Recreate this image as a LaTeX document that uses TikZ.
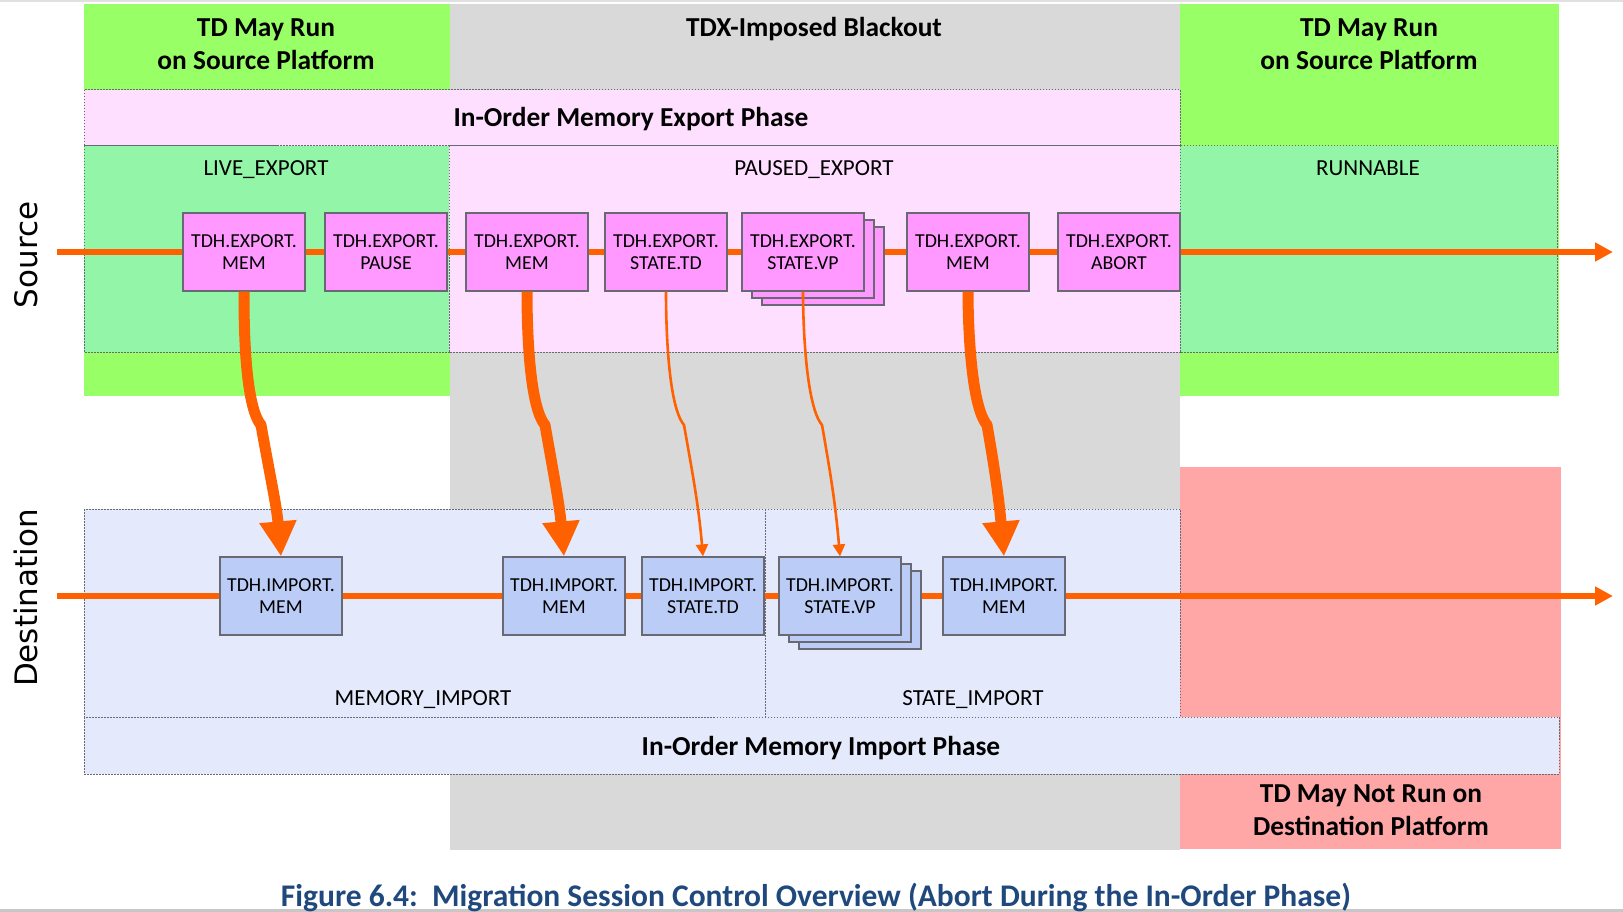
\documentclass[tikz,border=0pt]{standalone}
\usepackage{fontspec}
\setmainfont{Carlito}
\newfontfamily\sidefont{DejaVu Sans}
\usetikzlibrary{arrows.meta,shadows}

\definecolor{runGreen}{RGB}{153,255,102}
\definecolor{stateGreen}{RGB}{146,245,168}
\definecolor{blackoutGray}{RGB}{217,217,217}
\definecolor{exportPink}{RGB}{255,223,255}
\definecolor{exportBox}{RGB}{255,153,255}
\definecolor{importBlue}{RGB}{228,234,251}
\definecolor{importBox}{RGB}{187,204,246}
\definecolor{noRunRed}{RGB}{255,167,167}
\definecolor{flowOrange}{RGB}{255,96,0}
\definecolor{edgeGray}{RGB}{105,105,115}
\definecolor{captionBlue}{RGB}{31,73,125}

\pgfdeclarelayer{back}
\pgfdeclarelayer{flowline}
\pgfsetlayers{back,flowline,main}

\begin{document}
\begin{tikzpicture}[x=1pt,y=-1pt,
  region/.style={draw=edgeGray,line width=1pt,dash pattern=on 1.5pt off 1.5pt},
  title/.style={font=\fontsize{27.4}{33}\selectfont\bfseries,anchor=base},
  state/.style={font=\fontsize{23}{27}\selectfont,anchor=base},
  exportnode/.style={draw=edgeGray,fill=exportBox,line width=1.2pt,
    minimum width=122pt,minimum height=78pt,inner sep=0pt,align=center,
    font=\fontsize{19.8}{22.5}\selectfont},
  importnode/.style={exportnode,fill=importBox},
  stacked/.style={copy shadow={shadow xshift=20pt,shadow yshift=-14pt},
    copy shadow={shadow xshift=10pt,shadow yshift=-7pt}},
  flow/.style={draw=flowOrange,line width=6pt},
  bigflow/.style={draw=flowOrange,line width=11pt,line join=round,
    -{Triangle[length=35pt,width=35pt]}},
  thinflow/.style={draw=flowOrange,line width=2.6pt,line join=round,
    -{Triangle[length=12pt,width=12pt]}}]
  \useasboundingbox (0,0) rectangle (1623,912);

  \begin{pgfonlayer}{back}
    % Who may run the TD.
    \fill[runGreen] (84,4) rectangle (450,396);
    \fill[blackoutGray] (450,4) rectangle (1180,850);
    \fill[runGreen] (1180,4) rectangle (1559,396);
    \fill[noRunRed] (1180,467) rectangle (1561,849);

    % Source phase and states.
    \filldraw[region,fill=exportPink] (84,90) rectangle (1180,146);
    \filldraw[region,fill=stateGreen] (84,146) rectangle (449,352);
    \filldraw[region,fill=exportPink] (449,146) rectangle (1180,352);
    \filldraw[region,fill=stateGreen] (1180,146) rectangle (1557,352);

    % Destination states and phase.
    \filldraw[region,fill=importBlue] (84,509) rectangle (1180,717);
    \draw[region] (765,509) -- (765,717);
    \filldraw[region,fill=importBlue] (84,717) rectangle (1559,774);

    % Page rules.
    \draw[black!12,line width=1.5pt] (0,1) -- (1623,1);
    \fill[black!22] (0,909) rectangle (1623,912);
  \end{pgfonlayer}

  % Headings.
  \node[title] (runL1) at (266,37) {TD May Run};
  \node[title] (runL2) at (266,70) {on Source Platform};
  \node[title] (blackout) at (814,37) {TDX-Imposed Blackout};
  \node[title] (runR1) at (1369,37) {TD May Run};
  \node[title] (runR2) at (1369,70) {on Source Platform};
  \node[title] (exportPhase) at (631,127) {In-Order Memory Export Phase};
  \node[title] (importPhase) at (821,755) {In-Order Memory Import Phase};
  \node[title] (noRun1) at (1371,802) {TD May Not Run on};
  \node[title] (noRun2) at (1371,835) {Destination Platform};

  \node[state] (liveExport) at (266,176) {LIVE\_EXPORT};
  \node[state] (pausedExport) at (814,176) {PAUSED\_EXPORT};
  \node[state] (runnable) at (1368,176) {RUNNABLE};
  \node[state] (memImport) at (423,705) {MEMORY\_IMPORT};
  \node[state] (stateImport) at (973,705) {STATE\_IMPORT};

  \node[rotate=90,font=\sidefont\fontsize{31}{31}\selectfont] (srcSide) at (26,255) {Source};
  \node[rotate=90,font=\sidefont\fontsize{31}{31}\selectfont] (dstSide) at (26,598) {Destination};

  % Export calls on the source.
  \node[exportnode] (expMem1) at (244,252) {TDH.EXPORT.\\MEM};
  \node[exportnode] (expPause) at (386,252) {TDH.EXPORT.\\PAUSE};
  \node[exportnode] (expMem2) at (527,252) {TDH.EXPORT.\\MEM};
  \node[exportnode] (expTd) at (666,252) {TDH.EXPORT.\\STATE.TD};
  \node[exportnode,stacked] (expVp) at (803,252) {TDH.EXPORT.\\STATE.VP};
  \node[exportnode] (expMem3) at (968,252) {TDH.EXPORT.\\MEM};
  \node[exportnode] (expAbort) at (1119,252) {TDH.EXPORT.\\ABORT};

  % Import calls on the destination.
  \node[importnode] (impMem1) at (281,596) {TDH.IMPORT.\\MEM};
  \node[importnode] (impMem2) at (564,596) {TDH.IMPORT.\\MEM};
  \node[importnode] (impTd) at (703,596) {TDH.IMPORT.\\STATE.TD};
  \node[importnode,stacked] (impVp) at (840,596) {TDH.IMPORT.\\STATE.VP};
  \node[importnode] (impMem3) at (1004,596) {TDH.IMPORT.\\MEM};

  % Time lines.
  \coordinate (srcStart) at (57,252);
  \coordinate (srcEnd) at (1613,252);
  \coordinate (dstStart) at (57,596);
  \coordinate (dstEnd) at (1613,596);
  \begin{pgfonlayer}{flowline}
    \foreach \a/\b in {srcStart/expMem1,expMem1/expPause,expPause/expMem2,
        expMem2/expTd,expTd/expVp,expVp/expMem3,expMem3/expAbort}
      \draw[flow] (\a) -- (\b);
    \draw[flow,-{Triangle[length=18pt,width=18pt]}] (expAbort) -- (srcEnd);
    \foreach \a/\b in {dstStart/impMem1,impMem1/impMem2,impMem2/impTd,
        impTd/impVp,impVp/impMem3}
      \draw[flow] (\a) -- (\b);
    \draw[flow,-{Triangle[length=18pt,width=18pt]}] (impMem3) -- (dstEnd);
  \end{pgfonlayer}

  % Migration data, source to destination.
  \foreach \a/\b/\k in {expMem1/impMem1/261,expMem2/impMem2/545,expMem3/impMem3/987}
    \draw[bigflow] (\a.south) to[out=-90,in=130,looseness=0.5] (\k,425)
      to[out=-80,in=95] (\b.north);
  \foreach \a/\b/\k in {expTd/impTd/684,expVp/impVp/822}
    \draw[thinflow] (\a.south) to[out=-90,in=130,looseness=0.5] (\k,425)
      to[out=-80,in=95] (\b.north);

  \node[anchor=base,text=captionBlue,font=\fontsize{31.5}{36}\selectfont\bfseries] (caption)
    at (816,906) {Figure 6.4:\ \ Migration Session Control Overview (Abort During the In-Order Phase)};
\end{tikzpicture}
\end{document}
